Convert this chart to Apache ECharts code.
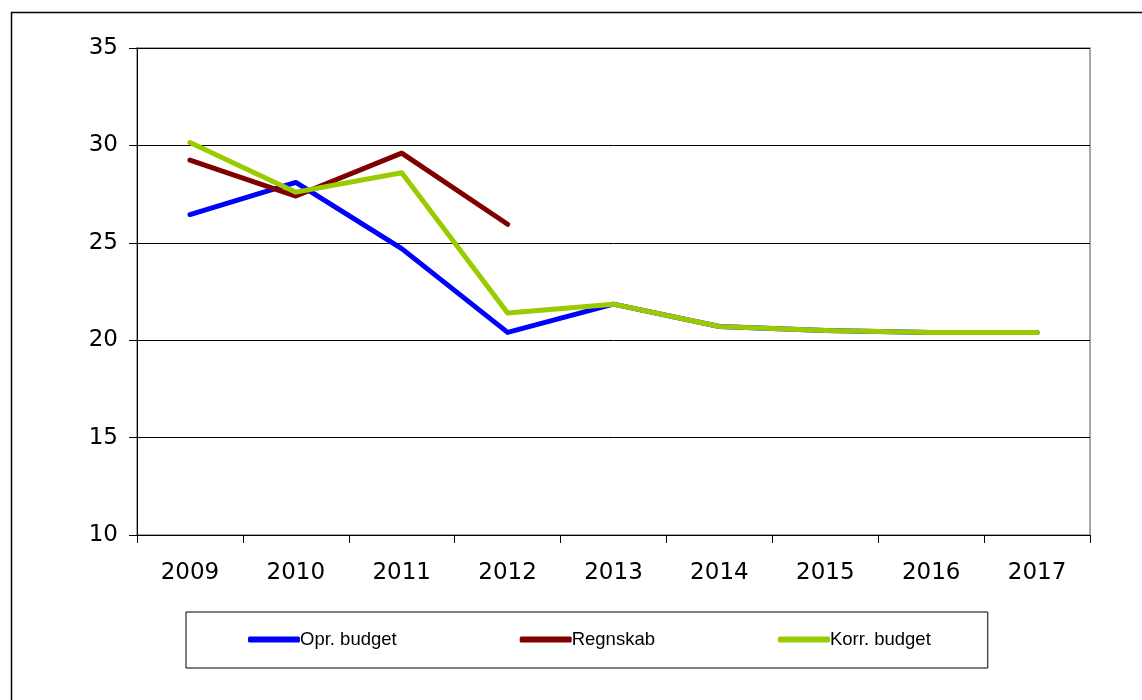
<!DOCTYPE html>
<html>
<head>
<meta charset="utf-8">
<script src="https://cdn.jsdelivr.net/npm/echarts@6/dist/echarts.min.js"></script>
<style>
  html, body { margin: 0; padding: 0; background: #fff; }
  #chart { width: 1142px; height: 700px; }
</style>
</head>
<body>
<div id="chart"></div>
<script>
const years = ['2009', '2010', '2011', '2012', '2013', '2014', '2015', '2016', '2017']
const oprBudget = [26.45, 28.1, 24.7, 20.4, 21.85, 20.7, 20.5, 20.4, 20.4]
const regnskab = [29.25, 27.4, 29.6, 25.95, null, null, null, null, null]
const korrBudget = [30.15, 27.6, 28.6, 21.4, 21.85, 20.7, 20.5, 20.4, 20.4]

const chart = echarts.init(document.getElementById('chart'))

const lineSeries = (name, data, color) => ({
  name,
  type: 'line',
  data,
  symbol: 'none',
  connectNulls: false,
  lineStyle: { width: 5, color, cap: 'round', join: 'round' },
  itemStyle: { color },
  emphasis: { disabled: true }
})

chart.setOption({
  animation: false,
  backgroundColor: '#fff',
  graphic: [
    {
      type: 'rect',
      shape: { x: 11.5, y: 12.5, width: 1200, height: 800 },
      style: { fill: 'none', stroke: '#000', lineWidth: 1.5 },
      silent: true
    }
  ],
  grid: {
    left: 137,
    right: 52,
    top: 48,
    bottom: 165,
    show: true,
    borderColor: '#8c8c8c',
    borderWidth: 1.5,
    backgroundColor: 'transparent'
  },
  legend: {
    left: 186,
    top: 612,
    padding: [18, 57, 19, 62],
    itemGap: 123,
    itemWidth: 52,
    itemHeight: 6,
    icon: 'roundRect',
    borderColor: '#000',
    borderWidth: 1,
    textStyle: { fontFamily: 'Liberation Sans', fontSize: 18.5, color: '#000', padding: [0, 0, 0, -5] },
    data: ['Opr. budget', 'Regnskab', 'Korr. budget']
  },
  xAxis: {
    type: 'category',
    data: years,
    boundaryGap: true,
    axisLine: { lineStyle: { color: '#000', width: 1 } },
    axisTick: { show: true, length: 8, alignWithLabel: false, lineStyle: { color: '#000' } },
    axisLabel: { fontFamily: 'DejaVu Sans', fontSize: 23, color: '#000', margin: 27 },
    splitLine: { show: false }
  },
  yAxis: {
    type: 'value',
    min: 10,
    max: 35,
    interval: 5,
    axisLine: { show: true, lineStyle: { color: '#000', width: 1 } },
    axisTick: { show: true, length: 8, lineStyle: { color: '#000' } },
    axisLabel: { fontFamily: 'DejaVu Sans', fontSize: 23, color: '#000', margin: 19 },
    splitLine: { show: true, lineStyle: { color: '#000', width: 1 } }
  },
  series: [
    lineSeries('Opr. budget', oprBudget, '#0000ff'),
    lineSeries('Regnskab', regnskab, '#800000'),
    lineSeries('Korr. budget', korrBudget, '#99cc00')
  ]
})
</script>
</body>
</html>
